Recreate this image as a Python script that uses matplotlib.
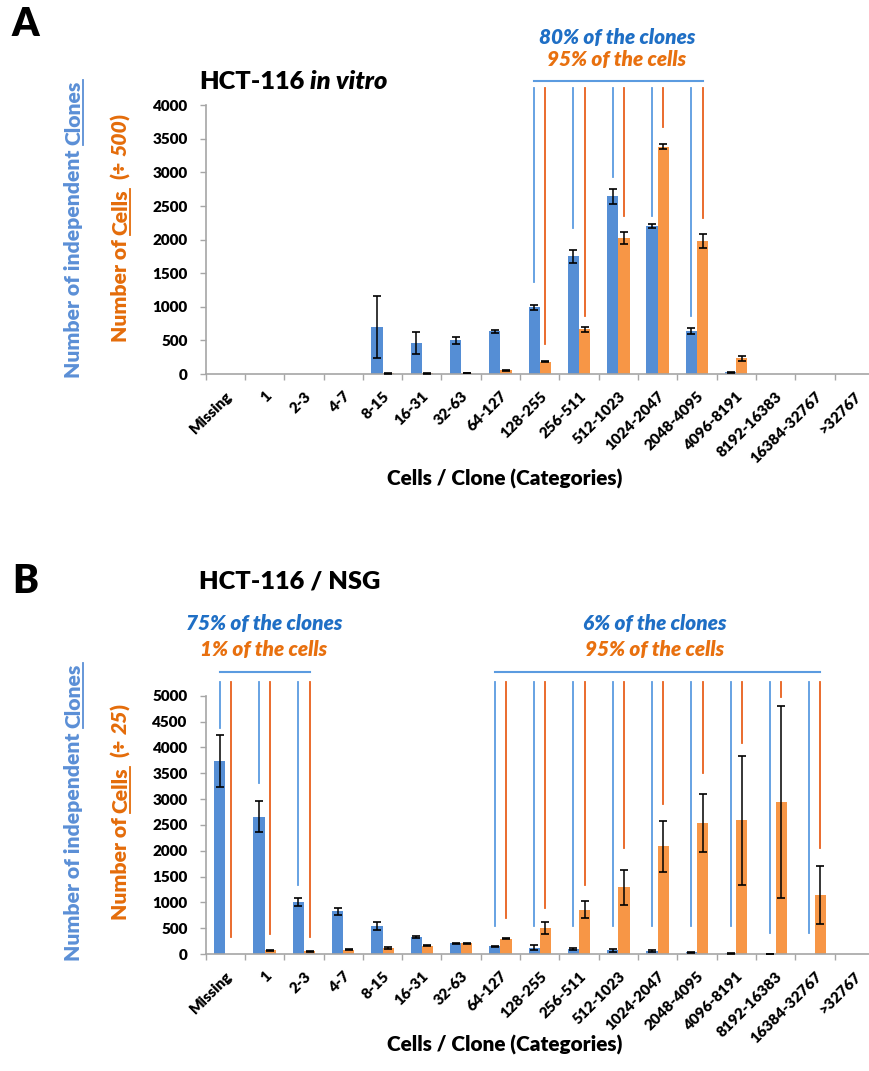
import matplotlib
matplotlib.use('Agg')
import matplotlib.pyplot as plt
import numpy as np
from matplotlib.lines import Line2D
from matplotlib.transforms import IdentityTransform

# ---------------- data ----------------
categories = ['Missing', '1', '2-3', '4-7', '8-15', '16-31', '32-63', '64-127',
              '128-255', '256-511', '512-1023', '1024-2047', '2048-4095',
              '4096-8191', '8192-16383', '16384-32767', '>32767']

a_clones = [0, 0, 0, 0, 700, 465, 500, 635, 990, 1750, 2645, 2205, 640, 25, 0, 0, 0]
a_clones_err = [0, 0, 0, 0, 460, 160, 55, 25, 40, 100, 115, 25, 45, 8, 0, 0, 0]
a_cells = [0, 0, 0, 0, 8, 8, 15, 55, 185, 665, 2025, 3385, 1980, 235, 0, 0, 0]
a_cells_err = [0, 0, 0, 0, 5, 5, 5, 8, 8, 35, 95, 40, 110, 40, 0, 0, 0]

b_clones = [3740, 2660, 1005, 825, 535, 330, 210, 150, 120, 105, 70, 55, 30, 12, 5, 0, 0]
b_clones_err = [505, 300, 75, 65, 80, 25, 10, 10, 50, 20, 30, 20, 10, 5, 3, 0, 0]
b_cells = [0, 70, 50, 85, 120, 160, 205, 300, 500, 855, 1290, 2085, 2540, 2585, 2950, 1140, 0]
b_cells_err = [0, 10, 8, 10, 25, 10, 10, 10, 122, 162, 340, 495, 557, 1240, 1860, 567, 0]

# annotation line data (panel A): categories 128-255 .. 2048-4095
a_group = [8, 9, 10, 11, 12]
a_blue_ends = [1370, 2170, 2930, 2355, 860]
a_orange_ends = [450, 860, 2355, 3670, 2315]
a_line_top = 4260
a_bracket = 4365

# panel B: left group (Missing..2-3), right group (64-127 .. 16384-32767)
b_left_group = [0, 1, 2]
b_left_blue_ends = [4370, 3305, 1330]
b_left_orange_ends = [337, 389, 337]
b_right_group = [7, 8, 9, 10, 11, 12, 13, 14, 15]
b_right_blue_ends = [550, 550, 550, 550, 550, 550, 550, 400, 400]
b_right_orange_ends = [693, 887, 1340, 2053, 2895, 3510, 4080, 4968, 2053]
b_line_top = 5270
b_bracket = 5465

a_yticks = [0, 500, 1000, 1500, 2000, 2500, 3000, 3500, 4000]
b_yticks = [0, 500, 1000, 1500, 2000, 2500, 3000, 3500, 4000, 4500, 5000]

# ---------------- style ----------------
FONT = ['Lato', 'DejaVu Sans']
WT = 'heavy'
BAR_BLUE = '#558ED5'
BAR_ORANGE = '#F79646'
LINE_BLUE = '#5B9BE0'
LINE_ORANGE = '#E8601C'
TXT_BLUE = '#1F6FC5'
TXT_ORANGE = '#E8700F'
LAB_BLUE = '#5B8FD6'
LAB_ORANGE = '#E46C0A'
AX_GRAY = '#A6A6A6'

plt.rcParams['font.family'] = FONT

W, H = 870, 1071
fig = plt.figure(figsize=(W / 100, H / 100), dpi=100)
fig.canvas.draw()
R = fig.canvas.get_renderer()
ID = IdentityTransform()


def measure(s, size, weight=WT, style='normal'):
    t = fig.text(0, 0, s, fontsize=size, fontweight=weight, fontstyle=style, family=FONT)
    w = t.get_window_extent(renderer=R).width
    t.remove()
    return w


def space_w(size, weight=WT, style='normal'):
    return measure('n n', size, weight, style) - measure('nn', size, weight, style)


def piece_len(pieces, size):
    total = 0
    for txt, col, st, ul in pieces:
        if txt.strip() == '':
            total += space_w(size) * len(txt)
        else:
            total += measure(txt, size, style=st)
    return total


def draw_pieces(pieces, size, rotation, base, start=None, center=None):
    L = piece_len(pieces, size)
    if center is not None:
        if rotation == 90:
            pos = (H - center) - L / 2
        else:
            pos = center - L / 2
    else:
        pos = (H - start) if rotation == 90 else start
    for txt, col, st, ul in pieces:
        if txt.strip() == '':
            pos += space_w(size) * len(txt)
            continue
        w = measure(txt, size, style=st)
        if rotation == 90:
            fig.text(base, pos, txt, transform=ID, rotation=90, rotation_mode='anchor',
                     ha='left', va='baseline', fontsize=size, fontweight=WT,
                     fontstyle=st, color=col, family=FONT)
            if ul:
                off = size * 100 / 72 * 0.16
                fig.add_artist(Line2D([base + off, base + off], [pos, pos + w], transform=ID,
                                      color=col, lw=1.3))
        else:
            fig.text(pos, H - base, txt, transform=ID, ha='left', va='baseline',
                     fontsize=size, fontweight=WT, fontstyle=st, color=col, family=FONT)
            if ul:
                off = size * 100 / 72 * 0.16
                fig.add_artist(Line2D([pos, pos + w], [H - base - off, H - base - off],
                                      transform=ID, color=col, lw=1.3))
        pos += w


def fit_size(pieces, target):
    return 10 * target / piece_len(pieces, 10)


CAT_W = 39.3
X0 = 205.7


def make_panel(top_px, bottom_px, ymax, yticks, clones, clones_err, cells, cells_err):
    ax = fig.add_axes([X0 / W, 1 - bottom_px / H, 17 * CAT_W / W, (bottom_px - top_px) / H])
    x = np.arange(len(categories))
    bw = 0.285
    ax.bar(x - bw / 2, clones, bw, color=BAR_BLUE, zorder=2)
    ax.bar(x + bw / 2, cells, bw, color=BAR_ORANGE, zorder=2)
    c = np.array(clones, float); ce = np.array(clones_err, float)
    o = np.array(cells, float); oe = np.array(cells_err, float)
    m1 = c > 0
    m2 = o > 0
    ax.errorbar(x[m1] - bw / 2, c[m1], yerr=ce[m1], fmt='none', ecolor='black',
                elinewidth=1.1, capsize=2.8, capthick=1.2, zorder=3)
    ax.errorbar(x[m2] + bw / 2, o[m2], yerr=oe[m2], fmt='none', ecolor='black',
                elinewidth=1.1, capsize=2.8, capthick=1.2, zorder=3)
    ax.set_xlim(-0.5, len(categories) - 0.5)
    ax.set_ylim(0, ymax)
    ax.set_yticks(yticks)
    ax.set_yticklabels([str(v) for v in yticks], fontsize=11, fontweight=WT)
    ax.set_xticks(np.arange(len(categories) + 1) - 0.5)
    ax.set_xticklabels([])
    ax.set_xticks(x, minor=True)
    ax.set_xticklabels(categories, minor=True, rotation=45, ha='right', va='top',
                       rotation_mode='anchor', fontsize=11, fontweight=WT)
    ax.tick_params(axis='x', which='major', length=4.5, color=AX_GRAY, width=1)
    ax.tick_params(axis='x', which='minor', length=0, pad=11)
    ax.tick_params(axis='y', length=4, color=AX_GRAY, width=1, pad=9)
    for s in ['top', 'right']:
        ax.spines[s].set_visible(False)
    for s in ['left', 'bottom']:
        ax.spines[s].set_color(AX_GRAY)
        ax.spines[s].set_linewidth(1.2)
    return ax, bw


def vlines(ax, bw, group, blue_ends, orange_ends, top, bracket):
    for g, be, oe in zip(group, blue_ends, orange_ends):
        ax.plot([g - bw / 2, g - bw / 2], [be, top], color=LINE_BLUE, lw=1.3, clip_on=False, zorder=4)
        ax.plot([g + bw / 2, g + bw / 2], [oe, top], color=LINE_ORANGE, lw=1.3, clip_on=False, zorder=4)
    ax.plot([group[0] - bw / 2, group[-1] + bw / 2], [bracket, bracket], color=LINE_BLUE,
            lw=1.5, clip_on=False, zorder=4)


# ---------------- panel A ----------------
axA, bw = make_panel(105.3, 374, 4000, a_yticks, a_clones, a_clones_err, a_cells, a_cells_err)
vlines(axA, bw, a_group, a_blue_ends, a_orange_ends, a_line_top, a_bracket)

# ---------------- panel B ----------------
axB, bw = make_panel(695.7, 954, 5000, b_yticks, b_clones, b_clones_err, b_cells, b_cells_err)
vlines(axB, bw, b_left_group, b_left_blue_ends, b_left_orange_ends, b_line_top, b_bracket)
vlines(axB, bw, b_right_group, b_right_blue_ends, b_right_orange_ends, b_line_top, b_bracket)

# ---------------- texts ----------------
fig.text(12 / W, 1 - 36 / H, 'A', fontsize=28, fontweight=WT, ha='left', va='baseline')
fig.text(12 / W, 1 - 593 / H, 'B', fontsize=28, fontweight=WT, ha='left', va='baseline')

titleA = [('HCT-116', 'black', 'normal', False), (' ', 'black', 'normal', False),
          ('in vitro', 'black', 'italic', False)]
titleB = [('HCT-116 / NSG', 'black', 'normal', False)]
ts = fit_size(titleB, 181)
draw_pieces(titleA, ts, 0, base=89, start=199)
draw_pieces(titleB, ts, 0, base=588, start=199)

blue_lab = [('Number of independent', LAB_BLUE, 'normal', False), (' ', LAB_BLUE, 'normal', False),
            ('Clones', LAB_BLUE, 'normal', True)]
bs = fit_size(blue_lab, 299)
orangeA = [('Number of', LAB_ORANGE, 'normal', False), (' ', LAB_ORANGE, 'normal', False),
           ('Cells', LAB_ORANGE, 'normal', True), ('  ', LAB_ORANGE, 'normal', False),
           ('(÷', LAB_ORANGE, 'normal', False), (' ', LAB_ORANGE, 'normal', False),
           ('500', LAB_ORANGE, 'italic', False), (')', LAB_ORANGE, 'normal', False)]
os_ = fit_size(orangeA, 230)
orangeB = [('Number of', LAB_ORANGE, 'normal', False), (' ', LAB_ORANGE, 'normal', False),
           ('Cells', LAB_ORANGE, 'normal', True), ('  ', LAB_ORANGE, 'normal', False),
           ('(÷', LAB_ORANGE, 'normal', False), (' ', LAB_ORANGE, 'normal', False),
           ('25', LAB_ORANGE, 'italic', False), (')', LAB_ORANGE, 'normal', False)]
draw_pieces(blue_lab, bs, 90, base=80, center=229)
draw_pieces(orangeA, os_, 90, base=127, center=228)
draw_pieces(blue_lab, bs, 90, base=80, center=812)
draw_pieces(orangeB, os_, 90, base=127, center=812)

xs = 10 * 236 / measure('Cells / Clone (Categories)', 10)
fig.text(505 / W, 1 - 479 / H, 'Cells / Clone (Categories)', fontsize=xs, fontweight=WT,
         ha='center', va='center')
fig.text(505 / W, 1 - 1045 / H, 'Cells / Clone (Categories)', fontsize=xs, fontweight=WT,
         ha='center', va='center')

ann_s = 10 * 156 / measure('75% of the clones', 10, style='italic')


def ann(x, y, s, col):
    fig.text(x / W, 1 - y / H, s, fontsize=ann_s, fontweight=WT, fontstyle='italic',
             color=col, ha='center', va='center')


ann(617, 37, '80% of the clones', TXT_BLUE)
ann(617, 60, '95% of the cells', TXT_ORANGE)
ann(264, 624, '75% of the clones', TXT_BLUE)
ann(264, 649, '1% of the cells', TXT_ORANGE)
ann(655, 624, '6% of the clones', TXT_BLUE)
ann(655, 649, '95% of the cells', TXT_ORANGE)

fig.savefig('out.png', dpi=100)
